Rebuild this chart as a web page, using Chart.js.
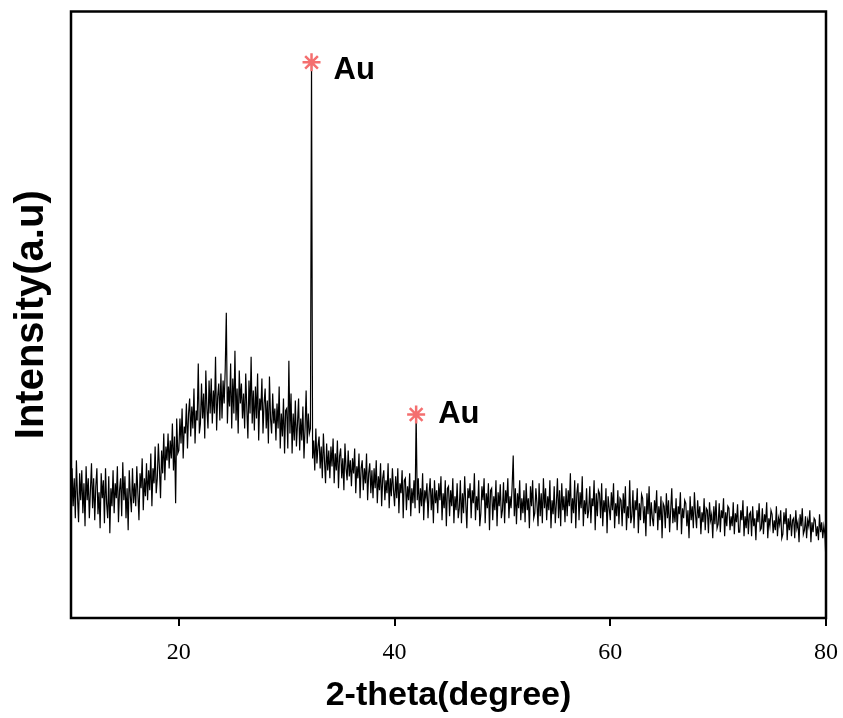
<!DOCTYPE html>
<html>
<head>
<meta charset="utf-8">
<script src="https://cdn.jsdelivr.net/npm/chart.js@4.4.0/dist/chart.umd.min.js"></script>
<style>
  html, body { margin: 0; padding: 0; background: #fff; }
  #wrap { width: 843px; height: 718px; }
</style>
</head>
<body>
<div id="wrap"><canvas id="xrd"></canvas></div>
<script>
// 2-theta sampling grid (degrees)
const thetaStart = 10;
const thetaStep = 0.1;

// Intensity (a.u.), one value per 0.1 degree, one row per degree, 10 .. 80
const intensity = [
  80, 150, 112, 140, 100, 158, 122, 96, 145, 118,
  148, 105, 135, 92, 152, 118, 140, 100, 128, 155,
  110, 140, 98, 132, 150, 104, 126, 90, 145, 120,
  138, 95, 150, 115, 100, 142, 85, 130, 112, 148,
  105, 135, 120, 152, 96, 128, 140, 102, 156, 118,
  142, 100, 130, 88, 148, 122, 106, 150, 115, 135,
  112, 152, 125, 98, 145, 130, 160, 108, 140, 122,
  155, 118, 148, 128, 165, 112, 150, 135, 172, 125,
  140, 175, 150, 120, 168, 145, 185, 138, 172, 158,
  185, 150, 178, 160, 195, 148, 182, 115, 200, 165,
  168, 200, 175, 210, 160, 192, 185, 215, 170, 205,
  220, 182, 212, 190, 230, 175, 208, 198, 255, 185,
  195, 235, 200, 225, 180, 248, 210, 190, 238, 205,
  240, 195, 228, 205, 262, 188, 222, 235, 198, 245,
  200, 238, 215, 250, 306, 195, 232, 212, 255, 190,
  240, 205, 268, 198, 230, 185, 248, 215, 235, 200,
  225, 190, 245, 210, 180, 238, 205, 262, 195, 228,
  188, 232, 200, 245, 178, 220, 208, 240, 185, 215,
  230, 190, 218, 175, 242, 200, 185, 225, 195, 210,
  178, 215, 190, 232, 170, 205, 182, 220, 165, 208,
  210, 170, 258, 185, 225, 165, 205, 178, 218, 172,
  195, 220, 168, 200, 178, 212, 160, 190, 228, 175,
  205, 185, 190, 557, 160, 178, 148, 190, 155, 172,
  182, 150, 172, 140, 185, 158, 135, 175, 148, 168,
  140, 172, 152, 180, 135, 165, 148, 178, 130, 162,
  170, 140, 160, 128, 175, 150, 138, 168, 142, 158,
  132, 160, 145, 170, 125, 152, 140, 165, 120, 150,
  158, 128, 150, 135, 165, 118, 145, 155, 125, 148,
  120, 150, 130, 158, 115, 142, 128, 155, 112, 140,
  148, 118, 138, 125, 155, 110, 140, 122, 150, 128,
  112, 142, 120, 150, 105, 135, 125, 148, 100, 138,
  140, 108, 132, 118, 145, 102, 130, 115, 138, 110,
  204, 118, 140, 105, 130, 112, 145, 98, 128, 120,
  135, 100, 125, 140, 108, 130, 95, 138, 115, 128,
  105, 135, 118, 142, 98, 125, 110, 138, 92, 130,
  132, 102, 128, 112, 140, 95, 122, 108, 135, 100,
  110, 138, 95, 125, 105, 142, 115, 90, 130, 120,
  135, 100, 128, 115, 145, 98, 122, 108, 138, 92,
  105, 132, 118, 140, 95, 125, 110, 135, 88, 128,
  130, 98, 122, 108, 138, 92, 126, 112, 134, 100,
  108, 136, 95, 128, 115, 140, 100, 122, 110, 132,
  163, 102, 130, 94, 125, 110, 138, 98, 120, 105,
  128, 96, 135, 108, 120, 90, 132, 112, 138, 100,
  105, 130, 115, 92, 135, 102, 125, 95, 140, 110,
  130, 98, 122, 108, 138, 90, 118, 104, 132, 95,
  115, 140, 100, 128, 92, 135, 108, 122, 96, 130,
  102, 128, 112, 145, 95, 120, 105, 138, 90, 125,
  135, 98, 126, 110, 142, 92, 118, 104, 130, 100,
  108, 132, 95, 120, 112, 138, 88, 125, 102, 128,
  125, 100, 135, 92, 118, 106, 130, 85, 122, 110,
  98, 126, 108, 135, 90, 115, 102, 128, 94, 120,
  118, 92, 125, 105, 132, 88, 112, 100, 138, 95,
  102, 128, 90, 118, 108, 130, 85, 115, 98, 124,
  120, 95, 112, 82, 125, 104, 132, 92, 116, 100,
  92, 118, 105, 128, 88, 112, 98, 122, 80, 115,
  112, 90, 125, 100, 118, 86, 108, 130, 95, 110,
  96, 120, 88, 112, 104, 126, 84, 110, 100, 118,
  115, 92, 108, 80, 122, 98, 112, 90, 126, 104,
  90, 118, 100, 112, 84, 106, 96, 120, 88, 110,
  108, 85, 116, 98, 104, 80, 112, 94, 118, 90,
  94, 115, 86, 108, 100, 120, 82, 106, 92, 112,
  110, 88, 102, 92, 116, 84, 105, 96, 114, 86,
  86, 108, 98, 118, 82, 102, 90, 112, 84, 104,
  106, 82, 112, 92, 100, 78, 108, 96, 115, 88,
  90, 110, 84, 104, 96, 116, 80, 100, 92, 108,
  104, 85, 98, 88, 112, 82, 100, 94, 108, 80,
  84, 106, 94, 110, 78, 100, 88, 104, 82, 98,
  100, 80, 108, 90, 96, 76, 104, 92, 110, 84,
  88, 102, 80, 98, 92, 108, 76, 96, 86, 100,
  98, 82, 92, 78, 104, 86, 96, 80, 92, 84,
  55
];

// Au reflections marked with an asterisk
const auTheta = [32.3, 42.0];
const auIntensity = [557, 204];
const auLabels = ['Au', 'Au'];

const xTicks = [20, 40, 60, 80];

const pattern = intensity.map((v, i) => ({
  x: Math.round((thetaStart + i * thetaStep) * 10) / 10,
  y: v
}));
const peaks = auTheta.map((t, i) => ({ x: t, y: auIntensity[i] }));

// box frame + "Au" labels next to the stars
const framePlugin = {
  id: 'frame',
  afterDatasetsDraw(chart) {
    const { ctx, chartArea: a, scales } = chart;
    ctx.save();
    ctx.strokeStyle = '#000';
    ctx.lineWidth = 2.5;
    ctx.strokeRect(a.left, a.top, a.right - a.left, a.bottom - a.top);

    ctx.font = 'bold 31px "Liberation Sans", Arial, sans-serif';
    ctx.fillStyle = '#000';
    ctx.textAlign = 'left';
    ctx.textBaseline = 'middle';
    peaks.forEach((p, i) => {
      const px = scales.x.getPixelForValue(p.x);
      const py = scales.y.getPixelForValue(p.y);
      ctx.fillText(auLabels[i], px + 22, py + (i === 0 ? 8 : 0));
    });
    ctx.restore();
  }
};

new Chart(document.getElementById('xrd'), {
  type: 'line',
  data: {
    datasets: [
      {
        data: peaks,
        showLine: false,
        pointStyle: 'star',
        pointRadius: 9,
        borderColor: '#f46f6f',
        backgroundColor: '#f46f6f',
        pointBorderWidth: 2.5
      },
      {
        data: pattern,
        borderColor: '#000',
        borderWidth: 1.2,
        pointRadius: 0,
        tension: 0,
        fill: false
      }
    ]
  },
  options: {
    responsive: true,
    maintainAspectRatio: false,
    animation: false,
    layout: { padding: { left: 0, right: 17, top: 10, bottom: 2.2 } },
    plugins: { legend: { display: false }, tooltip: { enabled: false } },
    scales: {
      x: {
        type: 'linear',
        min: 10,
        max: 80,
        afterBuildTicks: axis => { axis.ticks = xTicks.map(v => ({ value: v })); },
        afterFit: axis => { axis.paddingRight = 0; axis.paddingLeft = 0; },
        border: { display: false },
        grid: {
          display: true,
          drawOnChartArea: false,
          drawTicks: true,
          tickLength: 8,
          color: '#000',
          lineWidth: 2
        },
        ticks: {
          color: '#000',
          padding: 12,
          font: { family: '"Liberation Serif", "Times New Roman", serif', size: 24 }
        },
        title: {
          display: true,
          text: '2-theta(degree)',
          color: '#000',
          padding: { top: 0, bottom: 3 },
          font: { family: '"Liberation Sans", Arial, sans-serif', size: 34, weight: 'bold', lineHeight: 1 }
        }
      },
      y: {
        min: 0,
        max: 608,
        border: { display: false },
        grid: { display: false },
        ticks: { display: false },
        title: {
          display: true,
          text: 'Intensity(a.u)',
          color: '#000',
          padding: { top: 8, bottom: 7 },
          font: { family: '"Liberation Sans", Arial, sans-serif', size: 40, weight: 'bold', lineHeight: 1.2 }
        }
      }
    }
  },
  plugins: [framePlugin]
});
</script>
</body>
</html>
